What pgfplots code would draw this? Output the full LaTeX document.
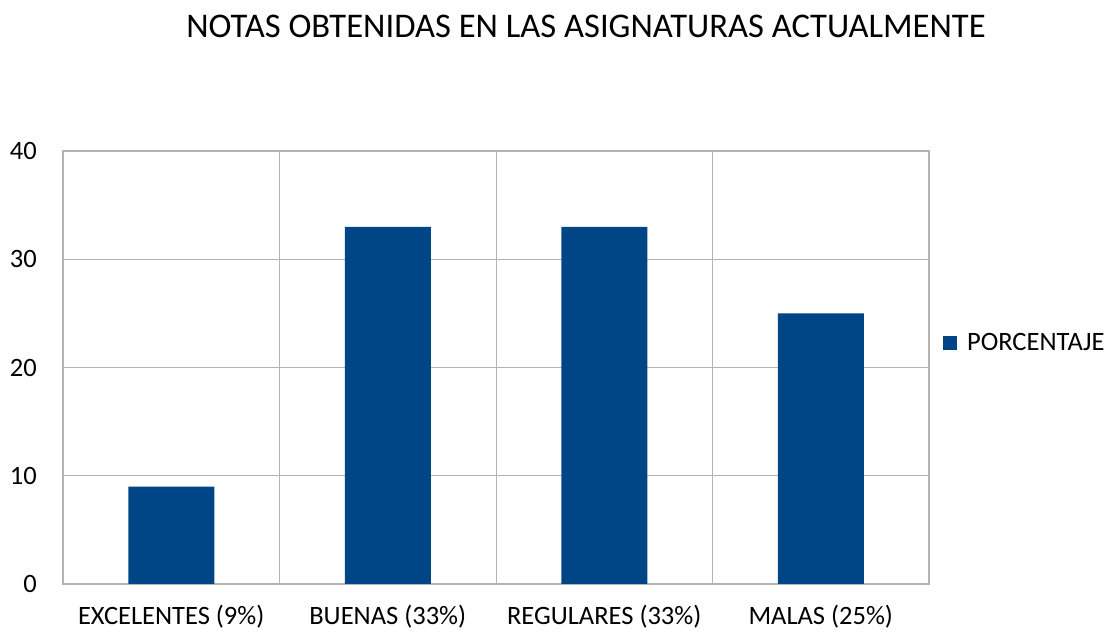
\documentclass[border=0pt]{standalone}
\usepackage{pgfplots}
\pgfplotsset{compat=1.18}
\usepackage{fontspec}
\setmainfont{Carlito}
\definecolor{barblue}{HTML}{004586}
\definecolor{gridgray}{HTML}{B3B3B3}
\begin{document}
\begin{tikzpicture}
\path[use as bounding box] (0,0) rectangle (1109pt,632pt);
\node[anchor=base, font=\fontsize{34.6}{40}\selectfont] at (586pt,594pt) {NOTAS OBTENIDAS EN LAS ASIGNATURAS ACTUALMENTE};
\begin{axis}[
  at={(63pt,48pt)}, anchor=south west,
  scale only axis, width=866pt, height=433pt,
  xmin=-0.5, xmax=3.5, ymin=0, ymax=40,
  xtick={0,1,2,3},
  xticklabels={EXCELENTES (9\%),BUENAS (33\%),REGULARES (33\%),MALAS (25\%)},
  minor xtick={0.5,1.5,2.5},
  ytick={0,10,20,30,40},
  major tick length=0pt, minor tick length=0pt,
  ymajorgrids, xminorgrids,
  grid style={gridgray, line width=1pt},
  axis line style={gridgray, line width=1.2pt},
  tick style={draw=none},
  /pgf/number format/assume math mode=true,
  ticklabel style={font=\fontsize{26.5}{30}\selectfont, inner sep=0pt},
  yticklabel style={xshift=-26pt},
  xticklabel style={yshift=-34pt, text height=0.65em},
  legend style={at={(1.016,0.557)}, anchor=west, draw=none, fill=none, inner sep=0pt,
    font=\fontsize{26.5}{30}\selectfont, legend cell align=left,
    /tikz/every even column/.append style={column sep=0pt}},
  legend image code/.code={\fill[barblue] (0pt,-7pt) rectangle (14pt,7pt); \path (22pt,0pt);},
]
\addplot[ybar, bar width=86pt, fill=barblue, draw=none] coordinates {(0,9) (1,33) (2,33) (3,25)};
\addlegendentry{PORCENTAJE}
\end{axis}
\end{tikzpicture}
\end{document}
